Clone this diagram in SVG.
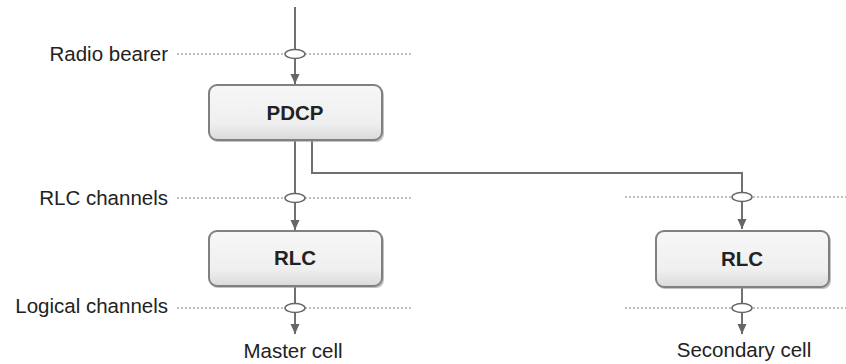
<svg xmlns="http://www.w3.org/2000/svg" width="846" height="364" viewBox="0 0 846 364">
<defs>
<linearGradient id="boxg" x1="0" y1="0" x2="0" y2="1">
<stop offset="0" stop-color="#f7f7f7"/>
<stop offset="0.7" stop-color="#efefef"/>
<stop offset="1" stop-color="#dadada"/>
</linearGradient>
<marker id="arr" viewBox="0 0 10 12" refX="10" refY="6" markerWidth="10" markerHeight="12" markerUnits="userSpaceOnUse" orient="auto">
<path d="M0,1.5 L10,6 L0,10.5 Z" fill="#666"/>
</marker>
</defs>
<style>
.lbl{font-family:"Liberation Sans",Arial,sans-serif;font-size:20.5px;fill:#222}
.nl{font-family:"Liberation Sans",Arial,sans-serif;font-size:20.5px;font-weight:bold;fill:#222;text-anchor:middle}
.box{fill:url(#boxg);stroke:#808080;stroke-width:2}
.shadow{fill:#999;opacity:0.6}
.dot{stroke:#aaa;stroke-width:1.5;stroke-dasharray:2 2;fill:none}
.ln{stroke:#707070;stroke-width:2;fill:none}
.ell{fill:#fff;stroke:#666;stroke-width:1.5}
</style>
<rect width="846" height="364" fill="#fff"/>
<g id="layer-lines">
<text class="lbl" x="168" y="61" text-anchor="end">Radio bearer</text>
<line class="dot" x1="177" y1="54" x2="413" y2="54"/>
<text class="lbl" x="168" y="205" text-anchor="end">RLC channels</text>
<line class="dot" x1="177" y1="198" x2="413" y2="198"/>
<line class="dot" x1="625" y1="197" x2="846" y2="197"/>
<text class="lbl" x="168" y="313" text-anchor="end">Logical channels</text>
<line class="dot" x1="177" y1="308" x2="413" y2="308"/>
<line class="dot" x1="625" y1="308" x2="846" y2="308"/>
</g>
<g id="connectors">
<path class="ln" d="M295,7 V84" marker-end="url(#arr)"/>
<path class="ln" d="M295,141 V230" marker-end="url(#arr)"/>
<path class="ln" d="M312,141 V173 H742 V229" marker-end="url(#arr)"/>
<path class="ln" d="M295,286 V334" marker-end="url(#arr)"/>
<path class="ln" d="M742,288 V334" marker-end="url(#arr)"/>
<ellipse class="ell" cx="295" cy="54" rx="10" ry="4.5"/>
<ellipse class="ell" cx="295" cy="198" rx="10" ry="4.5"/>
<ellipse class="ell" cx="742" cy="197" rx="10" ry="4.5"/>
<ellipse class="ell" cx="295" cy="308" rx="10" ry="4.5"/>
<ellipse class="ell" cx="742" cy="308" rx="10" ry="4.5"/>
</g>
<g id="pdcp">
<rect class="shadow" x="210" y="87" width="174" height="55" rx="8"/>
<rect class="box" x="209" y="85" width="173" height="55" rx="8"/>
<text class="nl" x="295" y="120">PDCP</text>
</g>
<g id="rlc-master">
<rect class="shadow" x="210" y="233" width="174" height="55" rx="8"/>
<rect class="box" x="209" y="231" width="173" height="55" rx="8"/>
<text class="nl" x="295" y="265">RLC</text>
</g>
<g id="rlc-secondary">
<rect class="shadow" x="657" y="233" width="174" height="56" rx="8"/>
<rect class="box" x="656" y="231" width="173" height="56" rx="8"/>
<text class="nl" x="742" y="266">RLC</text>
</g>
<g id="cells">
<text class="lbl" x="293" y="358" text-anchor="middle">Master cell</text>
<text class="lbl" x="744" y="357" text-anchor="middle">Secondary cell</text>
</g>
</svg>
